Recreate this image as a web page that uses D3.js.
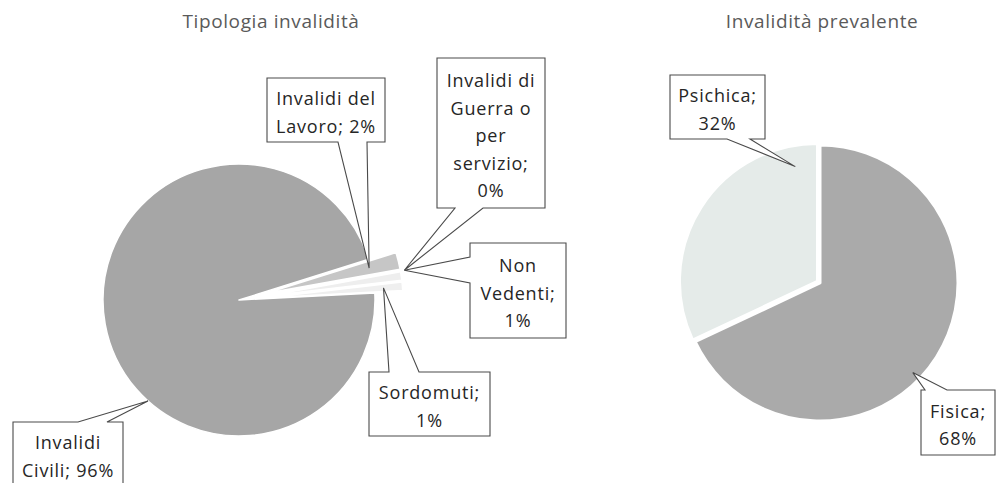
<!DOCTYPE html>
<html>
<head>
<meta charset="utf-8">
<script src="https://cdn.jsdelivr.net/npm/d3@7"></script>
<style>
  body { margin: 0; background: #fff; }
  svg text { font-family: "Open Sans", "Noto Sans", sans-serif; }
</style>
</head>
<body>
<svg id="chart"></svg>
<script>
// --- data: Tipologia invalidità
const tipoCategories = ["Invalidi Civili", "Invalidi del Lavoro", "Invalidi di Guerra o per servizio", "Non Vedenti", "Sordomuti"];
const tipoValues = [96, 2, 0, 1, 1];
const tipoLabels = [
  ["Invalidi", "Civili; 96%"],
  ["Invalidi del", "Lavoro; 2%"],
  ["Invalidi di", "Guerra o", "per", "servizio;", "0%"],
  ["Non", "Vedenti;", "1%"],
  ["Sordomuti;", "1%"]
];

// --- data: Invalidità prevalente
const prevCategories = ["Fisica", "Psichica"];
const prevValues = [68, 32];
const prevLabels = [
  ["Fisica;", "68%"],
  ["Psichica;", "32%"]
];

const titles = ["Tipologia invalidità", "Invalidità prevalente"];

// --- layout
const width = 998, height = 483;
const deg = Math.PI / 180;
const fontSize = 18, lineStep = 27.5;

const leftPie = {
  cx: 239, cy: 300, r: 136, start: 87,
  explode: [0, 28, 28, 28, 28],
  colors: ["#a6a6a6", "#c6c6c6", "#ebebeb", "#eeeeee", "#efefef"],
  stroke: 1.5,
  titleX: 271,
  // box: x, y, w, h ; side of the pointer ; base of the pointer ; tip (angle in deg or "mid"/"start", radius)
  callouts: [
    { box: [13, 422, 110, 64], side: "top", base: [78, 107], tip: [222, 136] },
    { box: [267, 78, 118, 64], side: "bottom", base: [338, 367], tip: ["mid", 134] },
    { box: [437, 58, 108, 150], side: "bottom", base: [455, 483], tip: ["mid", 168] },
    { box: [470, 243, 96, 95], side: "left", base: [257, 283], tip: ["start", 168] },
    { box: [369, 372, 121, 64], side: "top", base: [389, 419], tip: ["mid", 145] }
  ]
};

const rightPie = {
  cx: 820, cy: 283, r: 138, start: 0,
  explode: [0, 3],
  colors: ["#aaaaaa", "#e5ebe9"],
  stroke: 3,
  titleX: 822,
  callouts: [
    { box: [921, 390, 74, 65], side: "top", base: [925, 947], tip: [134, 129] },
    { box: [670, 75, 95, 64], side: "bottom", base: [727, 750], tip: [348, 119] }
  ]
};

const svg = d3.select("#chart")
  .attr("width", width)
  .attr("height", height);

svg.append("rect")
  .attr("width", width)
  .attr("height", height)
  .attr("fill", "#fff");

const polar = (cx, cy, a, r) => [cx + r * Math.sin(a), cy - r * Math.cos(a)];

// callout outline = box with a pointer on one side
const calloutPath = (c, tip) => {
  const x0 = c.box[0], y0 = c.box[1], x1 = x0 + c.box[2], y1 = y0 + c.box[3];
  const [a, b] = c.base;
  const p = d3.path();
  p.moveTo(x0, y0);
  if (c.side === "top") { p.lineTo(a, y0); p.lineTo(tip[0], tip[1]); p.lineTo(b, y0); }
  p.lineTo(x1, y0);
  p.lineTo(x1, y1);
  if (c.side === "bottom") { p.lineTo(b, y1); p.lineTo(tip[0], tip[1]); p.lineTo(a, y1); }
  p.lineTo(x0, y1);
  if (c.side === "left") { p.lineTo(x0, b); p.lineTo(tip[0], tip[1]); p.lineTo(x0, a); }
  p.closePath();
  return p.toString();
};

const drawPie = (cfg, values, labels, title) => {
  const pie = d3.pie()
    .sort(null)
    .value(d => d)
    .startAngle(cfg.start * deg)
    .endAngle(cfg.start * deg + 2 * Math.PI);
  const arcs = pie(values);

  const arc = d3.arc().innerRadius(0).outerRadius(cfg.r);

  const g = svg.append("g")
    .attr("transform", "translate(" + cfg.cx + "," + cfg.cy + ")");

  // slices (small ones pulled out)
  g.selectAll(".slice")
    .data(arcs)
    .enter()
    .append("path")
    .attr("class", "slice")
    .attr("d", arc)
    .attr("fill", (d, i) => cfg.colors[i])
    .attr("stroke", "#fff")
    .attr("stroke-width", cfg.stroke)
    .attr("stroke-linejoin", "round")
    .attr("transform", (d, i) => {
      const mid = (d.startAngle + d.endAngle) / 2;
      const off = polar(0, 0, mid, cfg.explode[i]);
      return "translate(" + off[0] + "," + off[1] + ")";
    });

  // callouts
  arcs.forEach((d, i) => {
    const c = cfg.callouts[i];
    let a = c.tip[0];
    if (a === "mid") a = (d.startAngle + d.endAngle) / 2;
    else if (a === "start") a = d.startAngle;
    else a = a * deg;
    const tip = polar(cfg.cx, cfg.cy, a, c.tip[1]);

    svg.append("path")
      .attr("d", calloutPath(c, tip))
      .attr("fill", "#fff")
      .attr("stroke", "#4a4a4a")
      .attr("stroke-width", 1.1)
      .attr("stroke-linejoin", "miter");

    const lines = labels[i];
    const midY = c.box[1] + c.box[3] / 2;
    svg.append("text")
      .attr("text-anchor", "middle")
      .attr("font-size", fontSize)
      .attr("letter-spacing", 0.8)
      .attr("fill", "#262626")
      .selectAll("tspan")
      .data(lines)
      .enter()
      .append("tspan")
      .attr("x", c.box[0] + c.box[2] / 2)
      .attr("y", (t, k) => midY + (k - (lines.length - 1) / 2) * lineStep + fontSize * 0.5)
      .text(t => t);
  });

  // title
  svg.append("text")
    .attr("x", cfg.titleX)
    .attr("y", 28)
    .attr("text-anchor", "middle")
    .attr("font-size", 19)
    .attr("letter-spacing", 0.6)
    .attr("fill", "#5a5a5a")
    .text(title);
};

drawPie(leftPie, tipoValues, tipoLabels, titles[0]);
drawPie(rightPie, prevValues, prevLabels, titles[1]);
</script>
</body>
</html>
